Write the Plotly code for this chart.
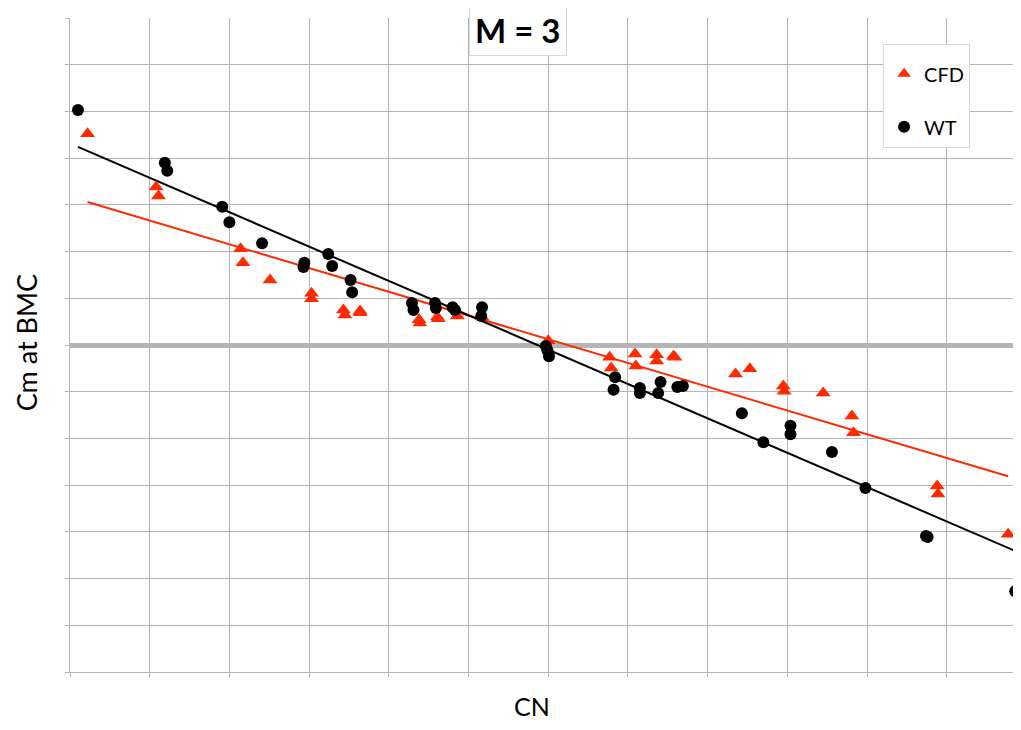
import plotly.graph_objects as go

# CFD data (CN, Cm at BMC)
cfd_cn = [-0.578, -0.492, -0.489, -0.386, -0.383, -0.349, -0.297, -0.297, -0.257, -0.255,
          -0.236, -0.236, -0.162, -0.161, -0.139, -0.138, -0.114, -0.083, 0.000, 0.077,
          0.079, 0.109, 0.110, 0.136, 0.136, 0.157, 0.159, 0.235, 0.253, 0.295,
          0.296, 0.345, 0.381, 0.383, 0.488, 0.489, 0.577]
cfd_cm = [0.0452, 0.0338, 0.0319, 0.0206, 0.0176, 0.0139, 0.0111, 0.0099, 0.0075, 0.0064,
          0.0073, 0.0069, 0.0054, 0.0047, 0.0060, 0.0056, 0.0062, 0.0060, 0.0009, -0.0026,
          -0.0049, -0.0019, -0.0045, -0.0021, -0.0034, -0.0024, -0.0026, -0.0062, -0.0051, -0.0088,
          -0.0099, -0.0103, -0.0152, -0.0188, -0.0302, -0.0319, -0.0405]

# Wind tunnel data
wt_cn = [-0.590, -0.481, -0.478, -0.409, -0.400, -0.359, -0.307, -0.306, -0.276, -0.271,
         -0.248, -0.246, -0.171, -0.169, -0.142, -0.141, -0.120, -0.117, -0.083, -0.084,
         -0.003, -0.001, 0.001, 0.084, 0.082, 0.115, 0.115, 0.141, 0.138, 0.162,
         0.169, 0.243, 0.270, 0.304, 0.304, 0.356, 0.398, 0.474, 0.476, 0.586]
wt_cm = [0.0503, 0.0390, 0.0373, 0.0296, 0.0263, 0.0218, 0.0167, 0.0176, 0.0195, 0.0169,
         0.0139, 0.0113, 0.0090, 0.0075, 0.0090, 0.0079, 0.0081, 0.0075, 0.0081, 0.0062,
         -0.0002, -0.0011, -0.0024, -0.0069, -0.0096, -0.0092, -0.0103, -0.0079, -0.0103, -0.0090,
         -0.0088, -0.0146, -0.0208, -0.0173, -0.0191, -0.0229, -0.0306, -0.0409, -0.0411, -0.0527]

# Linear trend lines (end points)
cfd_trend_cn = [-0.578, 0.577]
cfd_trend_cm = [0.0306, -0.0281]
wt_trend_cn = [-0.590, 0.586]
wt_trend_cm = [0.0424, -0.0441]

RED = "#ff2a00"
GRID = "#b5b5b5"
FONT = "Lato"

fig = go.Figure()
fig.add_trace(go.Scatter(x=cfd_trend_cn, y=cfd_trend_cm, mode="lines",
                         line=dict(color=RED, width=2), showlegend=False, hoverinfo="skip"))
fig.add_trace(go.Scatter(x=wt_trend_cn, y=wt_trend_cm, mode="lines",
                         line=dict(color="black", width=2), showlegend=False, hoverinfo="skip"))
fig.add_trace(go.Scatter(x=cfd_cn, y=cfd_cm, mode="markers", name="CFD", legendgroup="cfd",
                         cliponaxis=False,
                         marker=dict(symbol="triangle-up", size=13, color=RED)))
fig.add_trace(go.Scatter(x=wt_cn, y=wt_cm, mode="markers", name="WT", legendgroup="wt",
                         cliponaxis=False,
                         marker=dict(symbol="circle", size=12, color="black")))

W, H = 1013, 714
L, T = 62, 10
fig.update_layout(
    width=W, height=H,
    margin=dict(l=L, r=0, t=T, b=50, autoexpand=False),
    paper_bgcolor="white", plot_bgcolor="white",
    font=dict(family=FONT, color="black"),
    showlegend=True,
    legend=dict(x=0.855, y=0.96, xanchor="left", yanchor="top",
                bgcolor="white", bordercolor="#d9d9d9", borderwidth=1,
                font=dict(size=20, family=FONT), tracegroupgap=24,
                title=dict(text=" ", font=dict(size=7)),
                itemsizing="constant"),
    annotations=[
        dict(text="<b>M = 3</b>", x=0.471, y=0.9817, xref="paper", yref="paper",
             xanchor="center", yanchor="middle", showarrow=False,
             font=dict(size=33, family=FONT), bgcolor="white",
             bordercolor="#d9d9d9", borderwidth=1, borderpad=5),
        dict(text="CN", x=0.4858, y=-0.0520, xref="paper", yref="paper",
             xanchor="center", yanchor="middle", showarrow=False,
             font=dict(size=25, family=FONT)),
        dict(text="Cm at BMC", x=-0.0463, y=0.504, xref="paper", yref="paper",
             xanchor="center", yanchor="middle", showarrow=False, textangle=-90,
             font=dict(size=27, family=FONT)),
    ],
)
fig.update_xaxes(range=[-0.6, 0.5932], dtick=0.1, tick0=0, showgrid=True, gridcolor=GRID,
                 gridwidth=1, zeroline=False, showline=True, linecolor=GRID, linewidth=1,
                 ticks="outside", ticklen=4, tickcolor=GRID, showticklabels=False,
                 automargin=False)
fig.update_yaxes(range=[-0.07, 0.07], dtick=0.01, tick0=0, showgrid=True, gridcolor=GRID,
                 gridwidth=1, zeroline=True, zerolinecolor=GRID, zerolinewidth=5,
                 showline=True, linecolor=GRID, linewidth=1,
                 ticks="outside", ticklen=4, tickcolor=GRID, showticklabels=False,
                 automargin=False)

fig.write_html("out.html")
